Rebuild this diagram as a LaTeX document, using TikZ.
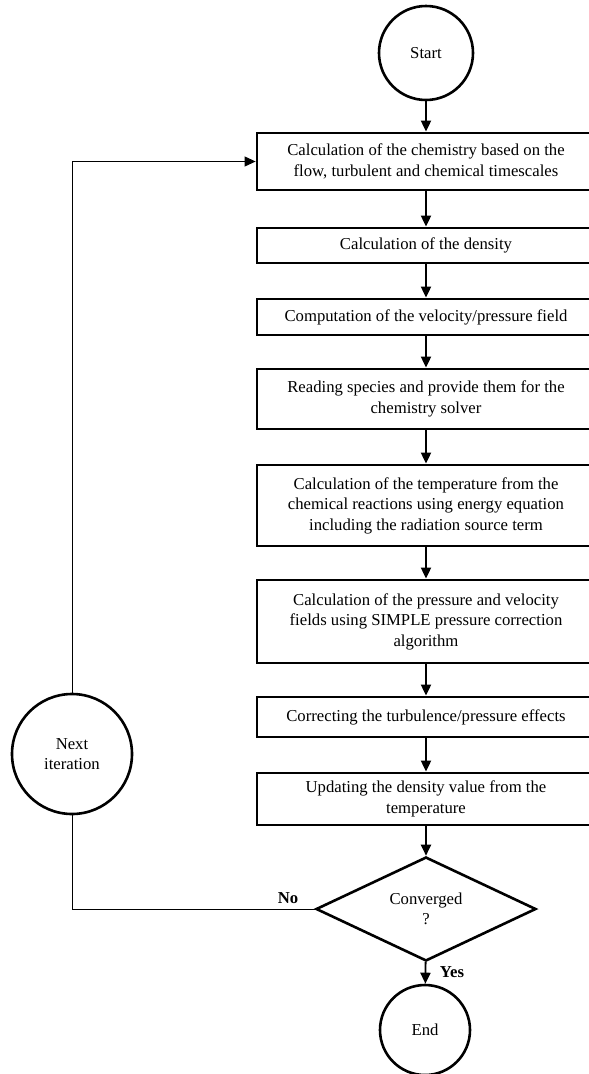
\documentclass[tikz,border=0pt]{standalone}
\usepackage{fontspec}
\setmainfont{Liberation Serif}
\usetikzlibrary{shapes.geometric,arrows.meta}

\tikzset{
  stage/.style={draw, line width=2.8pt, minimum width=338pt, inner sep=0pt, align=center},
  terminal/.style={draw, circle, line width=2.6pt, inner sep=0pt, align=center},
  decision/.style={draw, diamond, line width=2.6pt, aspect=2.1, inner sep=0pt, align=center},
  flow/.style={->, line width=1.9pt},
  loopline/.style={line width=1pt}
}

\begin{document}
\begin{tikzpicture}[x=1pt, y=-1pt, font=\fontsize{16.7}{20.5}\selectfont, >={Triangle[length=11pt,width=10pt]}]
        \useasboundingbox (0,0) rectangle (589,1074);
        \node [terminal, minimum size=94pt] (start) at (426,53) {Start};
        \node [stage, minimum height=57pt] (chem) at (426,161.5) {Calculation of the chemistry based on the\\flow, turbulent and chemical timescales};
        \node [stage, minimum height=35pt] (dens) at (426,245.5) {Calculation of the density};
        \node [stage, minimum height=36pt] (vel) at (426,317) {Computation of the velocity/pressure field};
        \node [stage, minimum height=60pt] (spec) at (426,399) {Reading species and provide them for the\\chemistry solver};
        \node [stage, minimum height=81pt] (temp) at (426,505.5) {Calculation of the temperature from the\\chemical reactions using energy equation\\including the radiation source term};
        \node [stage, minimum height=83pt] (simple) at (426,621.5) {Calculation of the pressure and velocity\\fields using SIMPLE pressure correction\\algorithm};
        \node [stage, minimum height=40pt] (turb) at (426,717) {Correcting the turbulence/pressure effects};
        \node [stage, minimum height=52pt] (upd) at (426,799) {Updating the density value from the\\temperature};
        \node [decision, minimum width=220pt, minimum height=104pt] (conv) at (426,909) {Converged\\?};
        \node [terminal, minimum size=90pt] (end) at (425,1030) {End};
        \node [terminal, minimum size=120pt] (next) at (72,754) {Next\\iteration};
        \node [font=\fontsize{16.7}{20.5}\selectfont\bfseries] (no) at (288,898) {No};
        \node [font=\fontsize{16.7}{20.5}\selectfont\bfseries] (yes) at (452,972) {Yes};
        \foreach \a/\b in {start/chem, chem/dens, dens/vel, vel/spec, spec/temp, temp/simple, simple/turb, turb/upd, upd/conv, conv/end}
          \draw [flow] (\a) -- (\b);
        % loop back for the next iteration
        \draw [loopline] (conv.west) -| (next.south);
        \draw [loopline, ->] (next.north) |- (chem.west);
      \end{tikzpicture}
\end{document}
